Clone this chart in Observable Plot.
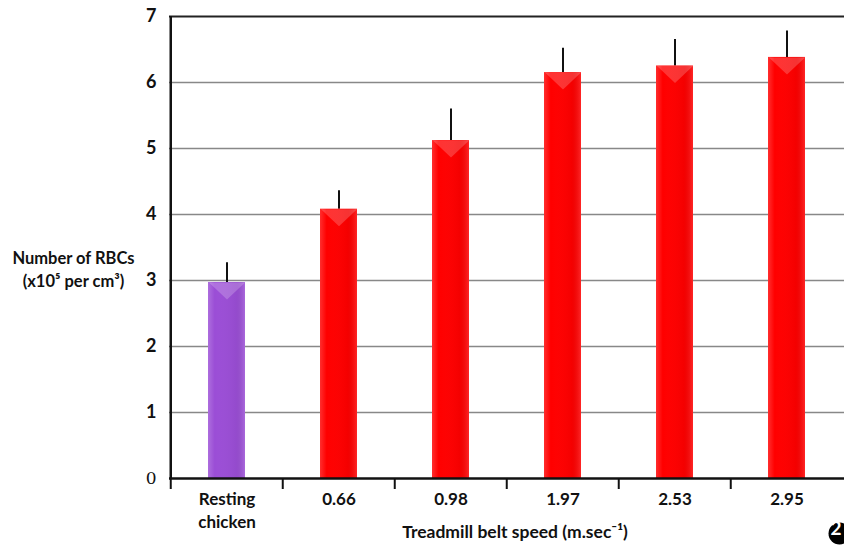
<!DOCTYPE html>
<html><head><meta charset="utf-8">
<script src="https://cdn.jsdelivr.net/npm/d3@7"></script>
<script src="https://cdn.jsdelivr.net/npm/@observablehq/plot@0.6"></script>
<style>body{margin:0;background:#fff}</style>
</head><body><div id="chart"></div>
<script>
const categories = ["Resting\nchicken", "0.66", "0.98", "1.97", "2.53", "2.95"];
const means = [2.97, 4.08, 5.12, 6.15, 6.25, 6.38];
const errors = [0.30, 0.28, 0.48, 0.37, 0.40, 0.40];
const groups = ["rest", "run", "run", "run", "run", "run"];
const yTicks = [0, 1, 2, 3, 4, 5, 6, 7];

const data = categories.map((c, i) => ({cat: c, mean: means[i], err: errors[i], group: groups[i]}));
const font = "Lato, 'Open Sans', sans-serif";

const downTri = {draw(ctx, size) { ctx.moveTo(-18, 0); ctx.lineTo(18, 0); ctx.lineTo(0, 17); ctx.closePath(); }};

const W = 844, ML = 169, MR = 0;
const step = (W - ML - MR) / categories.length;

const plot = Plot.plot({
  width: W, height: 545,
  marginLeft: ML, marginRight: MR, marginTop: 16, marginBottom: 67,
  style: {fontFamily: font, background: "#fff"},
  x: {domain: categories, paddingInner: 0.67, paddingOuter: 0.335, label: null},
  y: {domain: [0, 7], label: null},
  color: {domain: ["rest", "run"], range: ["#9b4ed6", "#ff0000"]},
  marks: [
    Plot.ruleY(yTicks.slice(1, -1), {stroke: "#888", strokeWidth: 1.5}),
    Plot.ruleY([7], {stroke: "#222", strokeWidth: 2}),
    Plot.ruleX(data, {x: "cat", y1: "mean", y2: d => d.mean + d.err, stroke: "#111", strokeWidth: 2}),
    Plot.barY(data, {x: "cat", y: "mean", fill: "group"}),
    Plot.barY(data, {x: "cat", y: "mean", fill: "url(#shade)"}),
    Plot.dot(data, {x: "cat", y: "mean", symbol: downTri, r: 5, fill: "#fff", fillOpacity: 0.2, stroke: null}),
    Plot.axisY({ticks: yTicks, tickFormat: d3.format("d"), tickSize: 0, tickPadding: 13, fontSize: 18, fontWeight: "bold", fill: "#111"}),
    Plot.axisX({tickSize: 0, tickPadding: 10, fontSize: 17, fontWeight: "bold", fill: "#111", lineHeight: 1.35, lineAnchor: "top"}),
    Plot.axisX({tickSize: 11, tickFormat: () => "", dx: -step / 2, stroke: "#111", strokeWidth: 2}),
    Plot.ruleX([0], {x: () => categories[0], dx: -step / 2, y1: 0, y2: 7, stroke: "#111", strokeWidth: 2.5}),
    Plot.ruleY([0], {stroke: "#111", strokeWidth: 2.5}),
    Plot.text(["Number of RBCs\n(x10\u2075 per cm\u00b3)"], {frameAnchor: "top-left", dx: -96, dy: 231, fontSize: 16.5, fontWeight: "bold", lineHeight: 1.4, fill: "#111", textAnchor: "middle"}),
    Plot.text(["Treadmill belt speed (m.sec\u207b\u00b9)"], {frameAnchor: "bottom", dx: 8, dy: 59, fontSize: 17.5, fontWeight: "bold", fill: "#111"}),
    Plot.dot([0], {frameAnchor: "bottom-right", dx: -5, dy: 55, r: 11, fill: "#000"}),
    Plot.text(["2"], {frameAnchor: "bottom-right", dx: -3, dy: 56, fill: "#fff", fontWeight: "bold", fontSize: 19})
  ]
});

const svgNS = "http://www.w3.org/2000/svg";
const defs = document.createElementNS(svgNS, "defs");
defs.innerHTML = '<linearGradient id="shade" x1="0" x2="1" y1="0" y2="0">' +
  '<stop offset="0" stop-color="#fff" stop-opacity="0.18"/>' +
  '<stop offset="0.18" stop-color="#fff" stop-opacity="0"/>' +
  '<stop offset="0.75" stop-color="#000" stop-opacity="0.04"/>' +
  '<stop offset="1" stop-color="#fff" stop-opacity="0.15"/></linearGradient>';
plot.insertBefore(defs, plot.firstChild);
d3.select(plot).selectAll("[aria-label='y-axis tick label'] text")
  .filter(function() { return this.textContent === "0"; })
  .attr("font-family", "'DejaVu Serif', 'Liberation Serif', serif").attr("font-weight", "normal").attr("font-size", 17);
document.getElementById("chart").appendChild(plot);
</script></body></html>
